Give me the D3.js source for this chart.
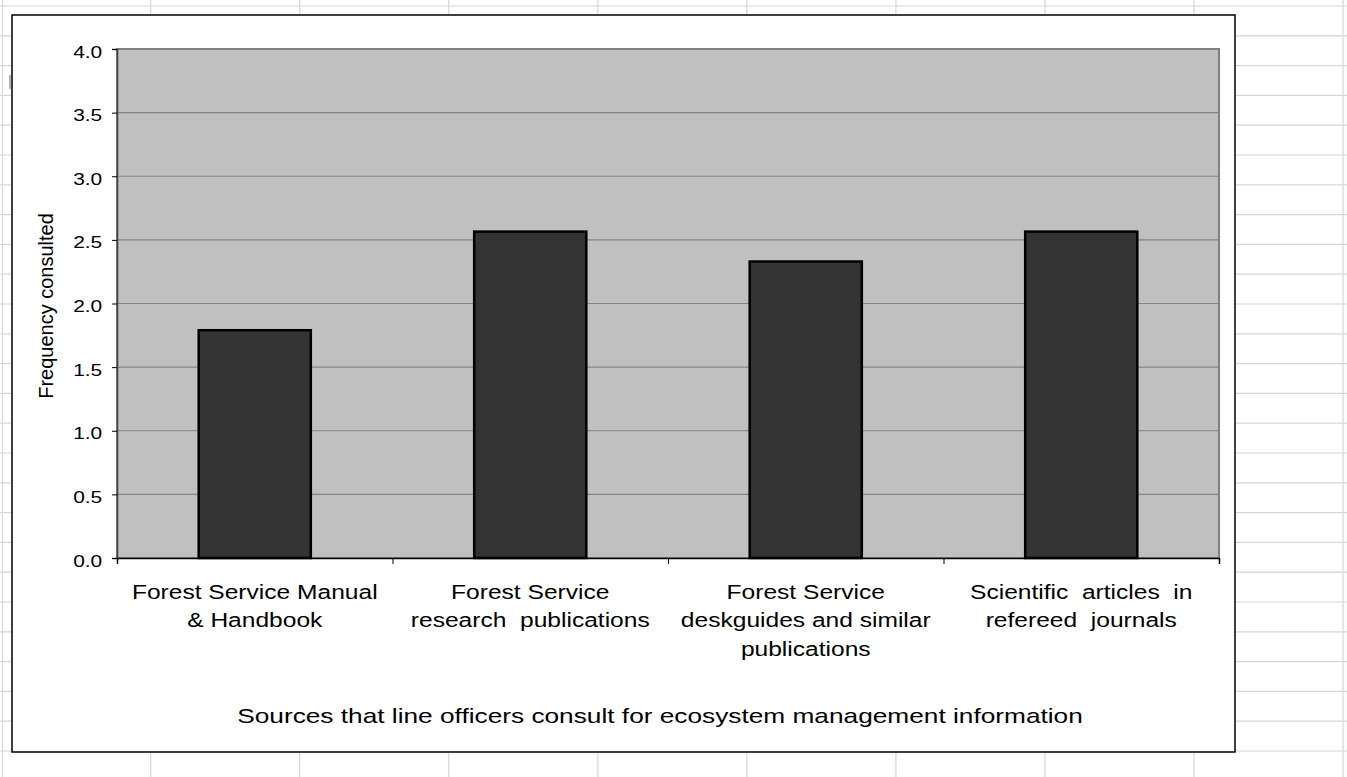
<!DOCTYPE html>
<html>
<head>
<meta charset="utf-8">
<script src="https://cdn.jsdelivr.net/npm/d3@7"></script>
<style>
  html, body { margin: 0; padding: 0; background: #fff; }
  svg text { font-family: "Liberation Sans", Arial, sans-serif; fill: #000; }
</style>
</head>
<body>
<svg id="chart" width="1347" height="777"></svg>
<script>
// data
var categories = ["Forest Service Manual & Handbook", "Forest Service research publications",
  "Forest Service deskguides and similar publications", "Scientific articles in refereed journals"];
var labelLines = [
  ["Forest Service Manual", "& Handbook"],
  ["Forest Service", "research  publications"],
  ["Forest Service", "deskguides and similar", "publications"],
  ["Scientific  articles  in", "refereed  journals"]
];
var values = [1.79, 2.565, 2.33, 2.565];
var yTicks = [0, 0.5, 1, 1.5, 2, 2.5, 3, 3.5, 4];
var yTitle = "Frequency consulted";
var xTitle = "Sources that line officers consult for ecosystem management information";

var W = 1347, H = 777;
var svg = d3.select("#chart");

// spreadsheet grid behind the chart
var sheet = svg.append("g").attr("stroke", "#d6d6d6").attr("stroke-width", 1.2);
for (var r = 0; r < 27; r++) {
  var yy = 6 + r * 29.8;
  sheet.append("line").attr("x1", 0).attr("x2", W).attr("y1", yy).attr("y2", yy);
}
for (var c = -1; c < 9; c++) {
  var xx = c < 0 ? 2.5 : 150.7 + c * 149.04;
  sheet.append("line").attr("x1", xx).attr("x2", xx).attr("y1", 0).attr("y2", H);
}
svg.append("line").attr("x1", 10).attr("x2", 10).attr("y1", 75).attr("y2", 89)
  .attr("stroke", "#9a9a9a").attr("stroke-width", 1.5);

// chart area
svg.append("rect").attr("x", 12).attr("y", 15).attr("width", 1223).attr("height", 737)
  .attr("fill", "#fff").attr("stroke", "#000").attr("stroke-width", 1.5);

var plot = {left: 117, right: 1219, top: 49, bottom: 558};

var y = d3.scaleLinear().domain([0, 4]).range([plot.bottom, plot.top]);
var x = d3.scaleBand().domain(categories).range([plot.left, plot.right])
  .paddingInner(0.593).paddingOuter(0.2965);
var xEdge = d3.scaleLinear().domain([0, categories.length]).range([plot.left, plot.right]);

svg.append("rect").attr("x", plot.left).attr("y", plot.top)
  .attr("width", plot.right - plot.left).attr("height", plot.bottom - plot.top)
  .attr("fill", "#c0c0c0").attr("stroke", "#808080").attr("stroke-width", 2);

// gridlines
svg.append("g").selectAll("line").data(yTicks.filter(d => d > 0 && d < 4)).join("line")
  .attr("x1", plot.left).attr("x2", plot.right)
  .attr("y1", d => y(d)).attr("y2", d => y(d))
  .attr("stroke", "#858585").attr("stroke-width", 1.2);

// bars
svg.append("g").selectAll("rect").data(values).join("rect")
  .attr("x", (d, i) => x(categories[i]))
  .attr("y", d => y(d))
  .attr("width", x.bandwidth())
  .attr("height", d => y(0) - y(d))
  .attr("fill", "#333333").attr("stroke", "#000").attr("stroke-width", 2.5);

// y axis
var yAxis = svg.append("g").attr("transform", "translate(" + plot.left + ",0)")
  .call(d3.axisLeft(y).tickValues(yTicks).tickFormat(d3.format(".1f")).tickSize(5).tickPadding(7));
yAxis.select(".domain").attr("stroke", "#404040").attr("stroke-width", 1.5);
yAxis.selectAll(".tick line").attr("stroke", "#000");
yAxis.selectAll(".tick text").attr("font-size", 17).attr("dy", "0.47em")
  .attr("transform", "scale(1.23,1)").attr("fill", "#000");

// x axis: ticks on category boundaries
var xAxis = svg.append("g").attr("transform", "translate(0," + plot.bottom + ")")
  .call(d3.axisBottom(xEdge).tickValues(d3.range(categories.length + 1)).tickFormat("").tickSize(6));
xAxis.select(".domain").attr("stroke", "#000").attr("stroke-width", 1.5);
xAxis.selectAll(".tick line").attr("stroke", "#000");

// category labels
var labels = svg.append("g").selectAll("g").data(labelLines).join("g")
  .attr("transform", (d, i) => "translate(" + (x(categories[i]) + x.bandwidth() / 2) + ",599) scale(1.17,1)");
labels.selectAll("text").data(d => d).join("text")
  .attr("y", (d, j) => j * 28.5)
  .attr("text-anchor", "middle").attr("font-size", 21)
  .style("white-space", "pre")
  .text(d => d);

// axis titles
svg.append("text")
  .attr("transform", "translate(53,306) rotate(-90)")
  .attr("text-anchor", "middle").attr("font-size", 20)
  .text(yTitle);

svg.append("g").attr("transform", "translate(660,723) scale(1.25,1)")
  .append("text").attr("text-anchor", "middle").attr("font-size", 21)
  .text(xTitle);
</script>
</body>
</html>
